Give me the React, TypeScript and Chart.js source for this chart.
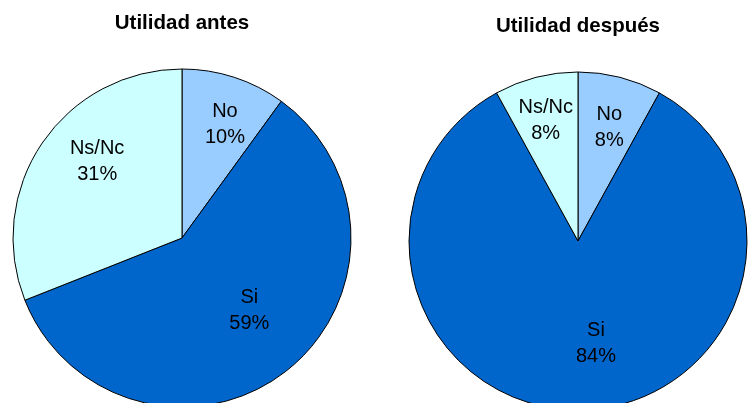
import React, { useEffect, useRef } from "react";
import { Chart, registerables } from "chart.js";

Chart.register(...registerables);

const categories = ["No", "Si", "Ns/Nc"];
const antesValues = [10, 59, 31];
const despuesValues = [8, 84, 8];
const titles = ["Utilidad antes", "Utilidad después"];

const sliceColors = ["#99CCFF", "#0066CC", "#CCFFFF"];

// label nudges (px) relative to a default radial placement
const antesNudge = [[9, -9], [0, -14], [6, -15]];
const despuesNudge = [[4, -7], [18, -7], [-5, -14]];

const FONT = "'Liberation Sans', Arial, sans-serif";

const labelPlugin = {
  id: "sliceLabels",
  afterDatasetsDraw(chart: any, _args: any, opts: any) {
    const ctx = chart.ctx;
    const meta = chart.getDatasetMeta(0);
    const data = chart.data.datasets[0].data as number[];
    const labels = chart.data.labels as string[];
    const nudge = opts.nudge || [];
    ctx.save();
    ctx.fillStyle = "#000";
    ctx.font = `20px ${FONT}`;
    ctx.textAlign = "center";
    ctx.textBaseline = "middle";
    meta.data.forEach((arc: any, i: number) => {
      const p = arc.getProps(["x", "y", "startAngle", "endAngle", "outerRadius"], true);
      const mid = (p.startAngle + p.endAngle) / 2;
      const r = p.outerRadius * 0.65;
      const [dx, dy] = nudge[i] || [0, 0];
      const cx = p.x + Math.cos(mid) * r + dx;
      const cy = p.y + Math.sin(mid) * r + dy;
      ctx.fillText(labels[i], cx, cy - 13);
      ctx.fillText(`${data[i]}%`, cx, cy + 13);
    });
    ctx.restore();
  },
};

type PieProps = {
  values: number[];
  title: string;
  nudge: number[][];
  left: number;
  width: number;
  height: number;
  padLeft: number;
  padRight: number;
  titleTop: number;
  titleBottom: number;
};

function Pie(props: PieProps) {
  const ref = useRef<HTMLCanvasElement>(null);
  useEffect(() => {
    if (!ref.current) return;
    const chart = new Chart(ref.current, {
      type: "pie",
      data: {
        labels: categories,
        datasets: [
          {
            data: props.values,
            backgroundColor: sliceColors,
            borderColor: "#000000",
            borderWidth: 1,
          },
        ],
      },
      options: {
        animation: false,
        responsive: false,
        maintainAspectRatio: false,
        radius: 169,
        layout: {
          padding: { left: props.padLeft, right: props.padRight, top: 0, bottom: 0 },
        },
        plugins: {
          legend: { display: false },
          tooltip: { enabled: false },
          title: {
            display: true,
            text: props.title,
            color: "#000",
            font: { family: FONT, size: 20.5, weight: "bold", lineHeight: 1.2 },
            padding: { top: props.titleTop, bottom: props.titleBottom },
          },
          sliceLabels: { nudge: props.nudge },
        } as any,
      } as any,
      plugins: [labelPlugin],
    });
    return () => chart.destroy();
  }, []);
  return (
    <canvas
      ref={ref}
      width={props.width}
      height={props.height}
      style={{
        position: "absolute",
        left: props.left,
        top: 0,
        width: props.width,
        height: props.height,
      }}
    />
  );
}

export default function App() {
  return (
    <div
      style={{
        position: "fixed",
        left: 0,
        top: 0,
        width: 748,
        height: 403,
        overflow: "hidden",
        background: "#fff",
      }}
    >
      <Pie
        values={antesValues}
        title={titles[0]}
        nudge={antesNudge}
        left={0}
        width={374}
        height={407}
        padLeft={0}
        padRight={10}
        titleTop={10.7}
        titleBottom={33.7}
      />
      <Pie
        values={despuesValues}
        title={titles[1]}
        nudge={despuesNudge}
        left={374}
        width={374}
        height={410}
        padLeft={34}
        padRight={0}
        titleTop={13.7}
        titleBottom={33.7}
      />
    </div>
  );
}
